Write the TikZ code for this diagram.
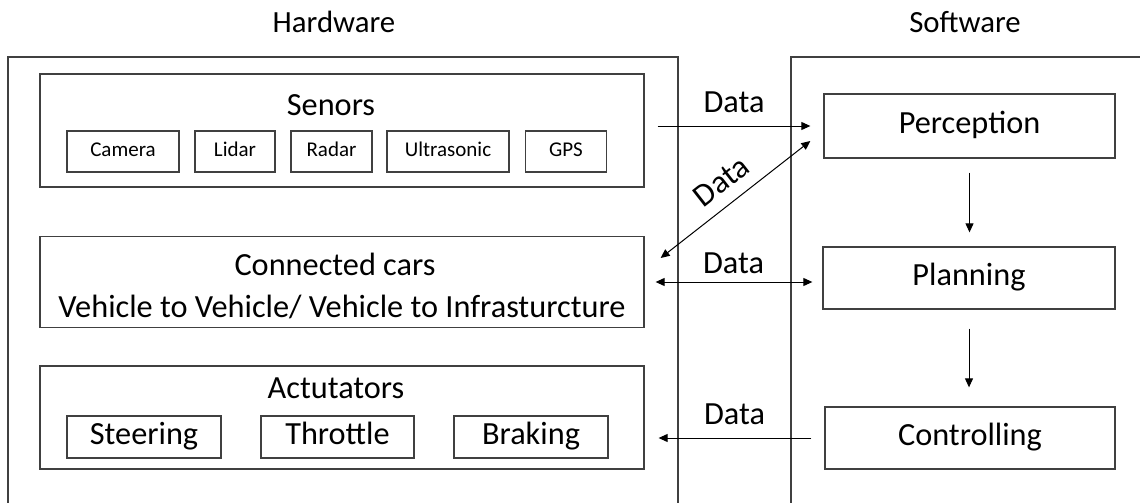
\documentclass[tikz,border=0pt]{standalone}
\usepackage{fontspec}
\setmainfont{Carlito}
\usetikzlibrary{arrows.meta,calc}
\definecolor{frame}{HTML}{404040}
\begin{document}
\begin{tikzpicture}[x=1pt,y=-1pt,
  box/.style={draw=frame, line width=1.3pt, inner sep=0pt},
  outer/.style={draw=frame, line width=1.4pt},
  big/.style={font=\fontsize{32.3}{38}\selectfont},
  head/.style={font=\fontsize{30.8}{37}\selectfont, inner sep=0pt, anchor=base},
  small/.style={font=\fontsize{21}{25}\selectfont},
  bigbox/.style={box, big, text height=22pt, text depth=7pt},
  smallbox/.style={box, small, text height=14.3pt, text depth=4.6pt, minimum height=41pt},
  tag/.style={big, inner sep=0pt, anchor=base},
  link/.style={line width=1pt, -{Triangle[length=9pt,width=8pt]}},
  twoway/.style={line width=1pt, {Triangle[length=9pt,width=8pt]}-{Triangle[length=9pt,width=8pt]}},
  lbl/.style={big, inner sep=0pt, midway}]
\useasboundingbox (0,0) rectangle (1140,503);

% section frames, open towards the page edges
\draw[outer] (8,510) -- (8,57) -- (678,57) -- (678,510);
\draw[outer] (1150,57) -- (791,57) -- (791,510);
\node[head] (hwtitle) at (334,33) {Hardware};
\node[head] (swtitle) at (965,33) {Software};

% sensors
\node[box, minimum width=604pt, minimum height=113pt] (sensors) at (342,130.5) {};
\node[tag] (sensorstitle) at (331,115) {Senors};
\node[smallbox, minimum width=112pt] (camera) at (123,151.5) {Camera};
\node[smallbox, minimum width=80pt] (lidar) at (235,151.5) {Lidar};
\node[smallbox, minimum width=81pt] (radar) at (331.5,151.5) {Radar};
\node[smallbox, minimum width=122pt] (ultra) at (448,151.5) {Ultrasonic};
\node[smallbox, minimum width=81pt] (gps) at (566,151.5) {GPS};

% connected cars
\node[box, minimum width=604pt, minimum height=91pt] (connected) at (342,282) {};
\node[tag] (conn1) at (335,275) {Connected cars};
\node[tag] (conn2) at (342,317) {Vehicle to Vehicle/ Vehicle to Infrasturcture};

% actuators
\node[box, minimum width=604pt, minimum height=103pt] (actuators) at (342,417.5) {};
\node[tag] (acttitle) at (336,398) {Actutators};
\node[bigbox, minimum width=154pt, minimum height=42pt] (steering) at (144,437) {Steering};
\node[bigbox, minimum width=153pt, minimum height=42pt] (throttle) at (337.5,437) {Throttle};
\node[bigbox, minimum width=154pt, minimum height=42pt] (braking) at (531,437) {Braking};

% software stages
\node[bigbox, minimum width=291pt, minimum height=64pt] (perception) at (969.5,126) {Perception};
\node[bigbox, minimum width=292pt, minimum height=62pt] (planning) at (969,278) {Planning};
\node[bigbox, minimum width=290pt, minimum height=62pt] (controlling) at (970,438) {Controlling};

% data flows
\draw[link, shorten <=13pt, shorten >=13pt] (sensors.east |- perception.west) -- (perception.west)
  node[lbl, above=13pt] {Data};
\draw[twoway] ($(connected.east)+(16,-24)$) -- ($(perception.west)+(-13,15)$)
  node[lbl, sloped, above=12pt] {Data};
\draw[twoway, shorten <=11pt, shorten >=10pt] (connected.east) -- (connected.east -| planning.west)
  node[lbl, above=8pt] {Data};
\draw[link, shorten <=13pt, shorten >=14pt] (controlling.west) -- (controlling.west -| actuators.east)
  node[lbl, above=13pt] {Data};
\draw[link, shorten <=14pt, shorten >=14pt] (perception.south) -- (perception.south |- planning.north);
\draw[link, shorten <=19pt, shorten >=19pt] (planning.south) -- (planning.south |- controlling.north);
\end{tikzpicture}
\end{document}
